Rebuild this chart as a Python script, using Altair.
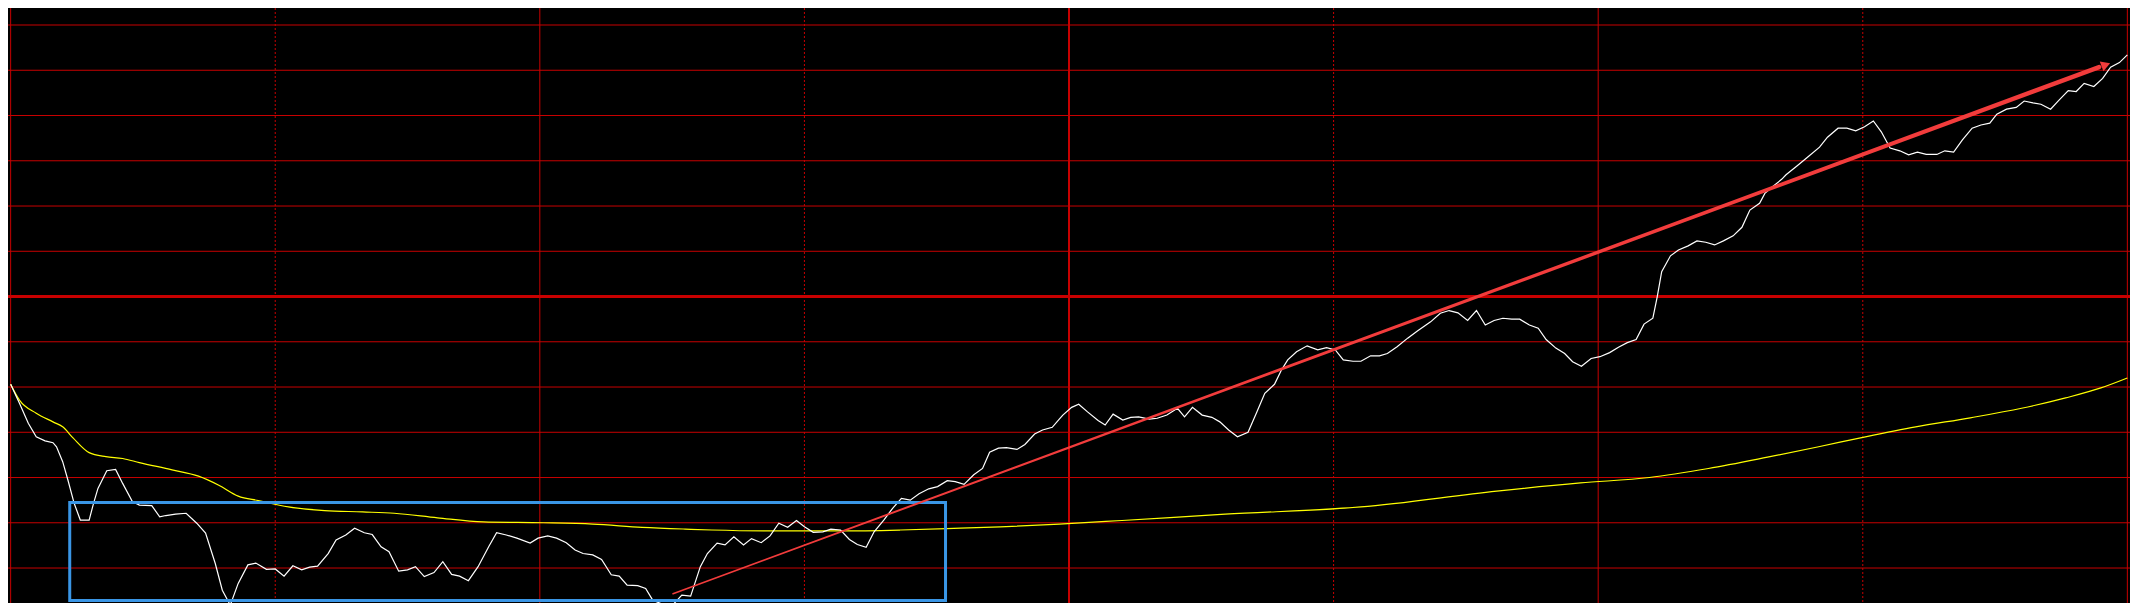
import altair as alt
import pandas as pd

# ---- data (minutes since open, % change vs previous close) ----
price_t = [0, 1.0, 2.0, 2.9, 3.9, 4.8, 5.2, 5.9, 6.5, 7.2,
           7.9, 8.9, 9.4, 9.9, 10.9, 11.9, 12.7, 13.8, 14.6, 16.0,
           16.9, 17.6, 18.7, 19.9, 21.1, 22.1, 23.2, 24.0, 24.9, 25.8,
           26.9, 27.8, 29.0, 30.0, 31.0, 32.0, 33.0, 33.9, 34.8, 36.0,
           36.9, 38.0, 39.0, 40.1, 41.0, 42.0, 42.9, 44.0, 45.0, 45.9,
           46.9, 48.0, 49.0, 50.0, 50.9, 51.9, 53.0, 54.2, 55.1, 56.2,
           57.4, 58.9, 59.8, 60.9, 61.9, 63.0, 64.0, 64.9, 66.0, 67.0,
           68.1, 69.0, 69.9, 71.1, 72.0, 72.8, 73.9, 75.1, 76.1, 77.1,
           78.2, 79.0, 80.1, 81.0, 82.0, 83.1, 84.0, 85.1, 86.1, 87.1,
           88.1, 89.1, 90.0, 91.0, 92.1, 93.0, 94.1, 95.1, 96.0, 97.0,
           97.9, 99.0, 100.0, 101.0, 102.0, 103.0, 104.1, 105.1, 106.2, 107.1,
           108.1, 109.2, 110.2, 111.0, 112.0, 112.9, 114.1, 115.0, 116.1, 117.0,
           118.1, 118.9, 119.3, 120.3, 121.1, 122.1, 123.3, 124.1, 125.0, 126.1,
           127.0, 127.9, 129.1, 130.0, 131.1, 132.3, 133.1, 134.0, 135.1, 136.2,
           137.1, 138.1, 139.1, 140.3, 141.3, 142.2, 143.3, 144.1, 144.8, 145.8,
           147.0, 148.2, 149.2, 150.2, 151.1, 152.2, 153.1, 154.2, 155.2, 156.1,
           157.2, 158.4, 159.5, 161.0, 162.1, 163.1, 164.1, 165.2, 166.2, 167.2,
           168.2, 169.2, 170.2, 171.1, 172.2, 173.2, 174.1, 175.2, 176.2, 177.1,
           178.1, 179.2, 180.2, 181.3, 182.3, 183.3, 184.3, 185.2, 186.2, 186.7,
           187.2, 188.2, 189.1, 190.2, 191.2, 192.2, 193.2, 194.2, 195.3, 196.3,
           197.2, 198.3, 198.9, 199.8, 200.8, 201.3, 202.5, 203.8, 205.1, 206.0,
           207.2, 208.2, 209.2, 210.2, 211.2, 212.1, 213.1, 214.2, 215.2, 216.2,
           217.2, 218.4, 219.3, 220.3, 221.3, 222.4, 223.4, 224.4, 225.2, 226.3,
           227.4, 228.3, 229.3, 230.2, 231.3, 232.2, 233.3, 234.2, 235.1, 236.2,
           237.2, 238.1, 239.1, 240.0]

price_v = [-1.94, -2.36, -2.80, -3.10, -3.19, -3.23, -3.32, -3.65, -4.06, -4.57,
           -4.94, -4.94, -4.57, -4.24, -3.85, -3.82, -4.13, -4.53, -4.61, -4.62,
           -4.87, -4.84, -4.81, -4.79, -5.01, -5.23, -5.90, -6.49, -6.82, -6.34,
           -5.93, -5.89, -6.03, -6.02, -6.18, -5.95, -6.04, -5.98, -5.96, -5.68,
           -5.38, -5.27, -5.12, -5.22, -5.26, -5.53, -5.64, -6.07, -6.04, -5.97,
           -6.19, -6.10, -5.86, -6.14, -6.18, -6.28, -5.97, -5.53, -5.22, -5.27,
           -5.34, -5.45, -5.34, -5.29, -5.34, -5.44, -5.60, -5.68, -5.71, -5.81,
           -6.15, -6.18, -6.38, -6.39, -6.45, -6.71, -6.80, -6.81, -6.60, -6.62,
           -5.97, -5.68, -5.45, -5.49, -5.31, -5.49, -5.35, -5.44, -5.29, -5.01,
           -5.10, -4.95, -5.09, -5.21, -5.20, -5.14, -5.16, -5.37, -5.48, -5.54,
           -5.20, -4.94, -4.68, -4.46, -4.50, -4.36, -4.25, -4.20, -4.07, -4.09,
           -4.15, -3.94, -3.80, -3.44, -3.35, -3.34, -3.38, -3.27, -3.04, -2.95,
           -2.89, -2.71, -2.62, -2.45, -2.38, -2.55, -2.74, -2.84, -2.60, -2.73,
           -2.67, -2.66, -2.71, -2.69, -2.62, -2.47, -2.66, -2.45, -2.62, -2.67,
           -2.77, -2.95, -3.10, -3.00, -2.55, -2.14, -1.94, -1.62, -1.40, -1.22,
           -1.09, -1.18, -1.13, -1.18, -1.40, -1.43, -1.43, -1.31, -1.31, -1.26,
           -1.11, -0.92, -0.76, -0.56, -0.37, -0.31, -0.36, -0.53, -0.31, -0.63,
           -0.53, -0.48, -0.50, -0.50, -0.63, -0.70, -0.95, -1.14, -1.26, -1.44,
           -1.54, -1.37, -1.33, -1.24, -1.12, -1.02, -0.95, -0.61, -0.48, 0.00,
           0.55, 0.90, 1.03, 1.12, 1.23, 1.20, 1.14, 1.23, 1.34, 1.53,
           1.91, 2.06, 2.28, 2.43, 2.59, 2.69, 2.88, 3.09, 3.30, 3.52,
           3.72, 3.72, 3.66, 3.75, 3.88, 3.64, 3.28, 3.22, 3.13, 3.19,
           3.14, 3.14, 3.22, 3.19, 3.46, 3.72, 3.79, 3.83, 4.03, 4.14,
           4.18, 4.32, 4.28, 4.25, 4.14, 4.33, 4.55, 4.53, 4.71, 4.64,
           4.82, 5.07, 5.17, 5.34]

avg_t = [0, 1.0, 2.9, 4.8, 5.9, 7.1, 8.9, 10.8, 12.7, 14.6,
         18.3, 21.3, 23.6, 25.8, 28.1, 31.5, 35.6, 39.9, 43.5, 48.4,
         53.6, 60.4, 66.0, 71.6, 76.5, 79.5, 85.9, 94.2, 100.9, 107.7,
         112.2, 118.9, 126.0, 137.7, 153.1, 168.5, 178.0, 185.8, 192.5, 199.2,
         205.0, 210.3, 216.0, 222.2, 228.0, 233.0, 237.0, 240.0]
avg_v = [-1.94, -2.29, -2.58, -2.77, -2.88, -3.13, -3.45, -3.54, -3.58, -3.67,
         -3.83, -3.97, -4.17, -4.41, -4.51, -4.65, -4.73, -4.76, -4.79, -4.89,
         -4.98, -5.00, -5.03, -5.10, -5.14, -5.16, -5.18, -5.18, -5.16, -5.12,
         -5.09, -5.03, -4.95, -4.81, -4.65, -4.30, -4.12, -4.00, -3.80, -3.55,
         -3.32, -3.10, -2.88, -2.68, -2.47, -2.24, -2.02, -1.80]

grid_levels = [-6, -5, -4, -3, -2, -1, 0, 1, 2, 3, 4, 5, 6]
hour_lines = [0, 60, 120, 180, 240]
half_hour_lines = [30, 90, 150, 210]

box_t = [6.7, 106.0]
box_v = [-4.55, -6.72]

arrow_t = [75.1, 236.8]
arrow_v = [-6.57, 5.07]
arrow_w = [1.5, 4.5]
arrow_head = (237.4, 5.11)

# ---- scales ----
xs = alt.Scale(domain=[-0.3, 240.3], nice=False, zero=False)
ys = alt.Scale(domain=[-6.773, 6.376], nice=False, zero=False)
GRID = "#c80000"

price_df = pd.DataFrame({"t": price_t, "v": price_v})
avg_df = pd.DataFrame({"t": avg_t, "v": avg_v})
hgrid = pd.DataFrame({"v": grid_levels, "w": [3 if g == 0 else 1 for g in grid_levels]})
vsolid = pd.DataFrame({"t": hour_lines, "w": [2 if h == 120 else 1 for h in hour_lines]})
vdot = pd.DataFrame({"t": half_hour_lines})
box_df = pd.DataFrame({"t": [box_t[0]], "t2": [box_t[1]], "v": [box_v[0]], "v2": [box_v[1]]})
arrow_df = pd.DataFrame({"t": arrow_t, "v": arrow_v, "w": arrow_w})
head_df = pd.DataFrame({"t": [arrow_head[0]], "v": [arrow_head[1]]})

h_layer = alt.Chart(hgrid).mark_rule(color=GRID).encode(
    y=alt.Y("v:Q", scale=ys, axis=None),
    strokeWidth=alt.StrokeWidth("w:Q", scale=None, legend=None),
)
vs_layer = alt.Chart(vsolid).mark_rule(color=GRID).encode(
    x=alt.X("t:Q", scale=xs, axis=None),
    strokeWidth=alt.StrokeWidth("w:Q", scale=None, legend=None),
)
vd_layer = alt.Chart(vdot).mark_rule(color=GRID, strokeDash=[2, 2], strokeWidth=1).encode(
    x=alt.X("t:Q", scale=xs, axis=None),
)
avg_layer = alt.Chart(avg_df).mark_line(color="#ffff00", strokeWidth=1.2, interpolate="monotone").encode(
    x=alt.X("t:Q", scale=xs, axis=None),
    y=alt.Y("v:Q", scale=ys, axis=None),
)
price_layer = alt.Chart(price_df).mark_line(color="#ffffff", strokeWidth=1.2).encode(
    x=alt.X("t:Q", scale=xs, axis=None),
    y=alt.Y("v:Q", scale=ys, axis=None),
)
box_layer = alt.Chart(box_df).mark_rect(filled=False, stroke="#3a96e6", strokeWidth=3).encode(
    x=alt.X("t:Q", scale=xs, axis=None), x2="t2:Q",
    y=alt.Y("v:Q", scale=ys, axis=None), y2="v2:Q",
)
arrow_layer = alt.Chart(arrow_df).mark_trail(color="#f23c3c").encode(
    x=alt.X("t:Q", scale=xs, axis=None),
    y=alt.Y("v:Q", scale=ys, axis=None),
    size=alt.Size("w:Q", scale=None, legend=None),
)
head_layer = alt.Chart(head_df).mark_point(
    shape="triangle", filled=True, color="#f23c3c", opacity=1, size=110, angle=69.7
).encode(
    x=alt.X("t:Q", scale=xs, axis=None),
    y=alt.Y("v:Q", scale=ys, axis=None),
)

chart = alt.layer(
    h_layer, vs_layer, vd_layer, avg_layer, price_layer, box_layer, arrow_layer, head_layer
).properties(
    width=2122, height=595, background="#000000", padding=0, autosize="none"
).configure_view(stroke=None)

chart.save("out.html", embed_options={"renderer": "svg", "actions": False})
